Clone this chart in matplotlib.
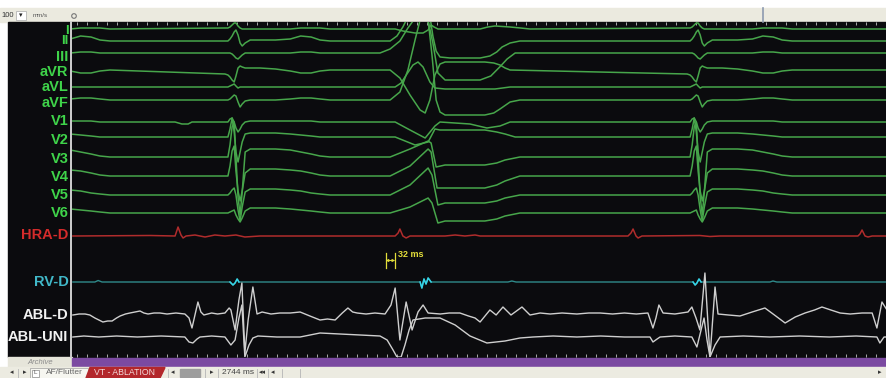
import numpy as np
import matplotlib
matplotlib.use("Agg")
import matplotlib.pyplot as plt
from matplotlib.patches import Rectangle, Polygon, Circle

plt.rcParams['font.family'] = ['Liberation Sans', 'DejaVu Sans']

# ---------------- recorded data (time in ms, amplitude in display units, up = +) ----
strip_ms = 2744
beat_onsets = [-216, 525, 2081]          # sinus QRS onsets
sinus_ms = [-10, 0, 7, 14, 21, 27, 34, 41, 48, 58, 75, 108, 160, 210, 245, 280, 310, 344]

I_sinus = [1, 1, 2, 4, 6, 6, 3, 1, 0, 0, 0, 0, 0, 0, 1, 1, 1, 0]
II_sinus = [0, 0, 2, 5, 9, 11, 6, -2, -5, -2, 1, 1, 1, 2, 5, 4, 1, 0]
III_sinus = [0, 0, 0, -1, -3, -5, -6, -4, -2, 0, 0, 0, 0, 0, 1, 1, 0, 0]
aVR_sinus = [-4, -5, -7, -10, -12, -6, 2, 4, 3, 2, 2, 2, 1, -1, -3, -3, -1, 0]
aVL_sinus = [0, 0, 1, 2, 3, 1, -1, 0, 0, 0, 0, 0, 0, 0, 0, 0, 0, 0]
aVF_sinus = [0, 0, 1, 3, 5, 4, -2, -7, -4, -1, 0, 0, 0, 1, 2, 2, 1, 0]
V1_sinus = [0, 0, 3, 4, 0, -6, -10, -7, -3, 0, 1, 1, 1, 1, 1, 1, 0, 0]
V2_sinus = [0, 0, 8, 19, 5, -15, -25, -15, -5, 3, 4, 4, 4, 3, 2, 1, 0, 0]
V3_sinus = [0, 0, 12, 30, 35, 0, -40, -58, -35, 5, 8, 8, 8, 7, 5, 3, 1, 0]
V4_sinus = [0, 0, 10, 25, 30, 5, -15, -25, -15, 3, 7, 7, 7, 6, 5, 3, 1, 0]
V5_sinus = [0, 0, 2, 5, 7, 0, -15, -26, -12, 3, 6, 6, 6, 5, 4, 2, 1, 0]
V6_sinus = [0, 0, 1, 2, 3, -2, -6, -9, -5, 2, 5, 5, 5, 4, 3, 2, 1, 0]

# the ventricular ectopic beat and the rest of the strip
I_rest = [(1088, 0), (1114, -2), (1155, -4), (1182, -4), (1199, -1), (1209, 4), (1219, 2),
          (1232, 0), (1374, 0), (1400, 2), (1424, 3), (1475, 2), (1510, 1), (1542, 0),
          (2744, 0)]
II_rest = [(1071, 0), (1094, 5), (1114, 14), (1131, 24), (1148, 34), (1189, 34), (1205, 25),
           (1215, 5), (1226, -10), (1239, -16), (1273, -17), (1374, -17), (1407, -15),
           (1430, -11), (1448, -6), (1475, -2), (1508, 0), (2744, 0)]
III_rest = [(1037, 0), (1071, 4), (1104, 12), (1131, 25), (1148, 32), (1199, 32), (1215, 10),
            (1232, -20), (1256, -27), (1374, -27), (1410, -23), (1440, -14), (1465, -6),
            (1492, 0), (2744, 0)]
aVR_rest = [(1071, 0), (1104, -8), (1138, -25), (1172, -40), (1189, -43), (1205, -30),
            (1222, -5), (1239, 6), (1256, 8), (1390, 8), (1420, 7), (1441, 5), (1458, 2),
            (1475, 0), (2744, 0)]
aVL_rest = [(1088, 0), (1108, 4), (1121, 10), (1148, 22), (1165, 25), (1182, 20),
            (1205, 5), (1222, -1), (1256, -2), (1424, -2), (1475, 0), (2744, 0)]
aVF_rest = [(1071, 0), (1104, 8), (1131, 30), (1155, 60), (1172, 80), (1199, 80), (1212, 45),
            (1226, 0), (1239, -12), (1256, -15), (1390, -15), (1420, -13), (1441, -9),
            (1475, -2), (1508, 0), (2744, 0)]
V1_rest = [(347, 0), (370, -2), (391, -2), (404, 0), (1088, 0), (1138, -8), (1189, -16),
           (1222, -4), (1239, 0), (1340, -2), (1397, -6), (1441, -4), (1475, 0), (2744, 0)]
V2_rest = [(1088, 0), (1155, -8), (1199, -5), (1222, 8), (1239, 7), (1390, 7), (1430, 5),
           (1458, 3), (1492, 0), (2744, 0)]
V3_rest = [(1071, 0), (1138, 8), (1199, 16), (1209, 14), (1226, -10), (1256, -8), (1390, -8),
           (1430, -6), (1458, -3), (1508, 0), (2744, 0)]
V4_rest = [(1071, 0), (1138, 10), (1199, 27), (1209, 24), (1229, -12), (1256, -12),
           (1390, -12), (1430, -9), (1458, -5), (1508, 0), (2744, 0)]
V5_rest = [(1071, 0), (1138, 10), (1199, 27), (1212, 20), (1232, -10), (1256, -8), (1390, -8),
           (1430, -6), (1458, -3), (1508, 0), (2744, 0)]
V6_rest = [(1071, 0), (1138, 6), (1199, 15), (1212, 10), (1232, -10), (1256, -8), (1390, -8),
           (1430, -6), (1458, -3), (1508, 0), (2744, 0)]

HRA_D = [(3, 0), (263, 0.5), (347, 0), (357, 9), (367, 1), (374, -2), (384, 0), (414, 1),
         (448, -1), (481, 1), (515, 0), (552, 1), (582, -1), (633, 0), (1088, 0), (1098, 3),
         (1104, 7), (1114, 0), (1125, -2), (1138, 0), (1256, 0), (1290, 1), (1323, 0),
         (1357, 1), (1374, 0), (1872, 0), (1882, 3), (1889, 7), (1899, 0), (1906, -2),
         (1919, 0), (2114, 0.5), (2148, -0.5), (2182, 0), (2646, 0), (2653, 2), (2660, 6),
         (2670, 0), (2680, -1), (2694, 0), (2744, 0)]
RV_D = [(3, 0), (77, 0), (88, 1.5), (101, 0), (532, 0), (542, -3), (549, -1), (556, 3),
        (562, 0), (1172, 0), (1178, -6), (1185, 3), (1192, -2), (1199, 4), (1209, 0),
        (1468, 0), (1481, 1), (1495, 0), (2091, 0), (2098, -3), (2104, -1), (2111, 3),
        (2118, 0), (2350, 0), (2360, 1), (2373, 0), (2744, 0)]
ABL_D = [(3, -1), (24, 0), (44, 0), (60, -1), (77, -4), (104, -8), (120, -7), (135, -7),
         (150, -4), (162, -2), (180, 0), (195, 1), (212, 2), (229, 3), (242, 1), (256, 0),
         (276, 1), (296, 1), (320, 0), (350, 1), (380, 0), (394, -4), (404, -14), (414, -1),
         (424, 12), (434, 2), (444, -1), (470, 1), (490, 0), (515, 1), (529, 6), (535, 4),
         (549, -16), (562, 14), (572, 31), (582, -39), (593, -6), (609, 27), (623, 0),
         (640, 2), (670, 0), (700, 1), (735, 1), (768, 2), (801, -2), (835, -6), (860, -5),
         (886, -6), (910, 1), (929, 6), (945, 2), (960, 1), (990, 0), (1020, 1), (1054, 0),
         (1074, 9), (1088, 26), (1104, -26), (1125, 12), (1145, -16), (1165, 2), (1182, 9),
         (1199, 1), (1240, 0), (1270, 1), (1306, 1), (1335, -2), (1357, -4), (1374, -8),
         (1407, 4), (1428, -1), (1451, 7), (1478, -1), (1515, 7), (1542, -1), (1576, 1),
         (1610, 0), (1650, 1), (1700, 0), (1740, 1), (1778, 1), (1820, 0), (1860, 1),
         (1900, 0), (1939, 1), (1956, -14), (1966, -4), (1976, 9), (1990, 1), (2030, 0),
         (2074, 2), (2087, 7), (2101, -4), (2114, -16), (2131, 41), (2148, -43), (2165, 27),
         (2175, 0), (2210, -1), (2249, -2), (2290, 2), (2333, 6), (2365, -1), (2401, -9),
         (2435, -3), (2468, 1), (2500, 4), (2525, 7), (2555, 4), (2586, 1), (2620, 0),
         (2660, 1), (2694, 1), (2710, -14), (2727, 12), (2744, 4)]
ABL_UNI = [(3, 0), (40, 1), (90, 0), (150, 1), (220, 0), (300, 1), (380, 0), (394, -5),
           (407, -6), (421, -2), (431, 0), (470, 1), (515, 0), (535, -8), (549, -3),
           (562, 19), (572, 32), (582, -20), (596, -8), (609, -1), (626, 1), (690, 0),
           (768, 0), (835, 4), (902, 3), (970, 2), (1037, 1), (1061, -3), (1081, -13),
           (1094, -20), (1108, -20), (1121, -8), (1135, 7), (1148, 17), (1189, 19),
           (1239, 19), (1290, 12), (1340, 1), (1397, -6), (1458, -4), (1508, -1), (1552, 0),
           (1620, 1), (1700, 0), (1780, 1), (1860, 0), (1946, 0), (1956, -5), (1970, -2),
           (1980, 0), (2030, 1), (2087, 0), (2104, -10), (2118, 7), (2128, 19), (2138, -3),
           (2148, -20), (2165, -8), (2182, 0), (2260, 1), (2350, 0), (2450, 1), (2550, 0),
           (2640, 1), (2710, 0), (2720, -6), (2734, 0), (2744, 0)]

ecg_names = ['I', 'II', 'III', 'aVR', 'aVL', 'aVF', 'V1', 'V2', 'V3', 'V4', 'V5', 'V6']
ecg_sinus = [I_sinus, II_sinus, III_sinus, aVR_sinus, aVL_sinus, aVF_sinus,
             V1_sinus, V2_sinus, V3_sinus, V4_sinus, V5_sinus, V6_sinus]
ecg_rest = [I_rest, II_rest, III_rest, aVR_rest, aVL_rest, aVF_rest,
            V1_rest, V2_rest, V3_rest, V4_rest, V5_rest, V6_rest]

caliper_start, caliper_ms = 1056, 32

# ---------------- layout (pixels of the 887 x 378 screen) ----------------
W, H = 887, 378
ecg_base = [29, 41, 53, 70, 87, 100, 122, 137, 157, 176, 195, 213]
ecg_label_y = [30.5, 41.5, 57, 72, 87, 103, 121, 140, 159, 177, 195, 213]
ecg_label_size = [9.5, 9.5] + [10.5] * 10
GREEN, GREEN_LBL = '#47a64b', '#3fd44a'


def ecg_points(sinus, rest):
    pts = list(rest) + [(t0 + t, v) for t0 in beat_onsets for t, v in zip(sinus_ms, sinus)]
    pts.sort()
    t, v = zip(*pts)
    return np.array(t, float), np.array(v, float)


def as_arrays(pts):
    t, v = zip(*pts)
    return np.array(t, float), np.array(v, float)


fig = plt.figure(figsize=(W / 100, H / 100), dpi=100, facecolor='white')

# screen chrome, drawn in pixel coordinates
bg = fig.add_axes([0, 0, 1, 1])
bg.set_xlim(0, W)
bg.set_ylim(H, 0)
bg.axis('off')
bg.add_patch(Rectangle((0, 8), W, 14, color='#ebeadf'))
bg.add_patch(Rectangle((8, 22), W - 8, 335, color='#0b0b0e'))
bg.add_patch(Rectangle((8, 357), 64, 10, color='#e6e5da'))
bg.add_patch(Rectangle((72, 357.5), W - 72, 9.5, color='#7b4aa1'))
bg.add_patch(Rectangle((0, 367), W, 11, color='#ecebe1'))
bg.plot([71.5, 71.5], [22, 357], color='#d0d0d0', lw=1.4)

# top toolbar
bg.text(1, 15.5, '100', fontsize=5.5, color='#333333', va='center')
bg.add_patch(Rectangle((16, 10.5), 10, 9, facecolor='white', edgecolor='#aaaaaa', lw=0.5))
bg.text(21, 15.5, '\u25be', fontsize=5, color='#222222', ha='center', va='center',
        family=['DejaVu Sans'])
bg.text(33, 15.5, 'mm/s', fontsize=4.5, color='#555555', va='center')
bg.add_patch(Circle((74, 16), 2.3, facecolor='none', edgecolor='#777777', lw=0.8))
bg.plot([763.5, 763.5], [8, 22], color='#8d9ab0', lw=1.2)

# bottom toolbar
bg.text(40, 362.5, 'Archive', fontsize=5.5, color='#8a8a8a', ha='center', va='center',
        style='italic')
yb = 372.5
for x, s in [(12, '\u25c2'), (25, '\u25b8'), (173, '\u25c2'), (212, '\u25b8'),
             (262, '\u25c2\u25c2'), (273, '\u25c2'), (880, '\u25b8')]:
    bg.text(x, yb, s, fontsize=5, color='#333333', ha='center', va='center',
            family=['DejaVu Sans'])
for x in [18, 168, 205, 218, 257, 268, 282, 300]:
    bg.plot([x, x], [368.5, 377.5], color='#b5b5b5', lw=0.6)
bg.add_patch(Rectangle((30, 368), 58, 10, facecolor='#f6f6f0', edgecolor='#a0a0a0', lw=0.5))
bg.add_patch(Rectangle((32, 369.5), 7, 7, facecolor='white', edgecolor='#888888', lw=0.5))
bg.text(35.5, 373, 'L', fontsize=4.5, color='#555555', ha='center', va='center')
bg.text(46, yb, 'AF/Flutter', fontsize=6, color='#666666', va='center')
bg.add_patch(Polygon([(86, 378), (90, 367.5), (165, 367.5), (160, 378)], color='#b3272b'))
bg.text(125, yb, 'VT - ABLATION', fontsize=6.3, color='#f3d9d9', ha='center', va='center')
bg.add_patch(Rectangle((180, 368.5), 20, 8.5, color='#9d9d9d'))
bg.text(222, yb, '2744 ms', fontsize=6, color='#444444', va='center')

# channel labels
lbl = dict(fontweight='bold', ha='right', va='center')
for name, y, fs in zip(ecg_names, ecg_label_y, ecg_label_size):
    bg.text(68.5, y, name, color=GREEN_LBL, fontsize=fs, **lbl)
bg.text(68.5, 235, 'HRA-D', color='#d42b2b', fontsize=10.5, **lbl)
bg.text(68.5, 282, 'RV-D', color='#41b9c9', fontsize=10.5, **lbl)
bg.text(68.5, 315, 'ABL-D', color='#f2f2f2', fontsize=10.5, **lbl)
bg.text(68.5, 337, 'ABL-UNI', color='#f2f2f2', fontsize=10.5, **lbl)

# ---------------- signal area ----------------
ax = fig.add_axes([72 / W, (H - 357) / H, (W - 72) / W, 335 / H])
ax.set_facecolor('none')
ax.set_xlim(0, strip_ms)
ax.set_ylim(357, 22)
for s in ax.spines.values():
    s.set_visible(False)
ax.set_xticks(np.arange(18, strip_ms, 33.6))
ax.set_yticks([])
ax.tick_params(axis='x', direction='in', top=True, bottom=True, length=2.5, width=0.7,
               color='#a8a8a8', labelbottom=False, labeltop=False, pad=0)

for base, sinus, rest in zip(ecg_base, ecg_sinus, ecg_rest):
    t, v = ecg_points(sinus, rest)
    ax.plot(t, base - v, color=GREEN, lw=1.1, solid_joinstyle='round')

t, v = as_arrays(HRA_D)
ax.plot(t, 236 - v, color='#b02c2c', lw=1.1)

t, v = as_arrays(RV_D)
ax.plot(t, 282 - v, color='#2f8a8a', lw=1.0)
for t0 in [525, 1165, 2085]:
    m = (t >= t0) & (t <= t0 + 45)
    ax.plot(t[m], 282 - v[m], color='#35d3e6', lw=1.1)

t, v = as_arrays(ABL_D)
ax.plot(t, 314 - v, color='#cfcfcf', lw=1.0)
t, v = as_arrays(ABL_UNI)
ax.plot(t, 337 - v, color='#cfcfcf', lw=1.0)

# 32 ms caliper
yel = '#e3de3a'
c0, c1 = caliper_start, caliper_start + caliper_ms
ax.plot([c0, c0], [253, 268], color=yel, lw=0.9)
ax.plot([c1, c1], [253, 268], color=yel, lw=0.9)
ax.annotate('', xy=(c0, 260.5), xytext=(c1, 260.5),
            arrowprops=dict(arrowstyle='<->', color=yel, lw=0.7, shrinkA=0, shrinkB=0,
                            mutation_scale=4))
ax.text(c1 + 8, 254.5, '32 ms', color=yel, fontsize=6.5, fontweight='bold', va='center')

fig.savefig('out.png', dpi=100, facecolor='white')
